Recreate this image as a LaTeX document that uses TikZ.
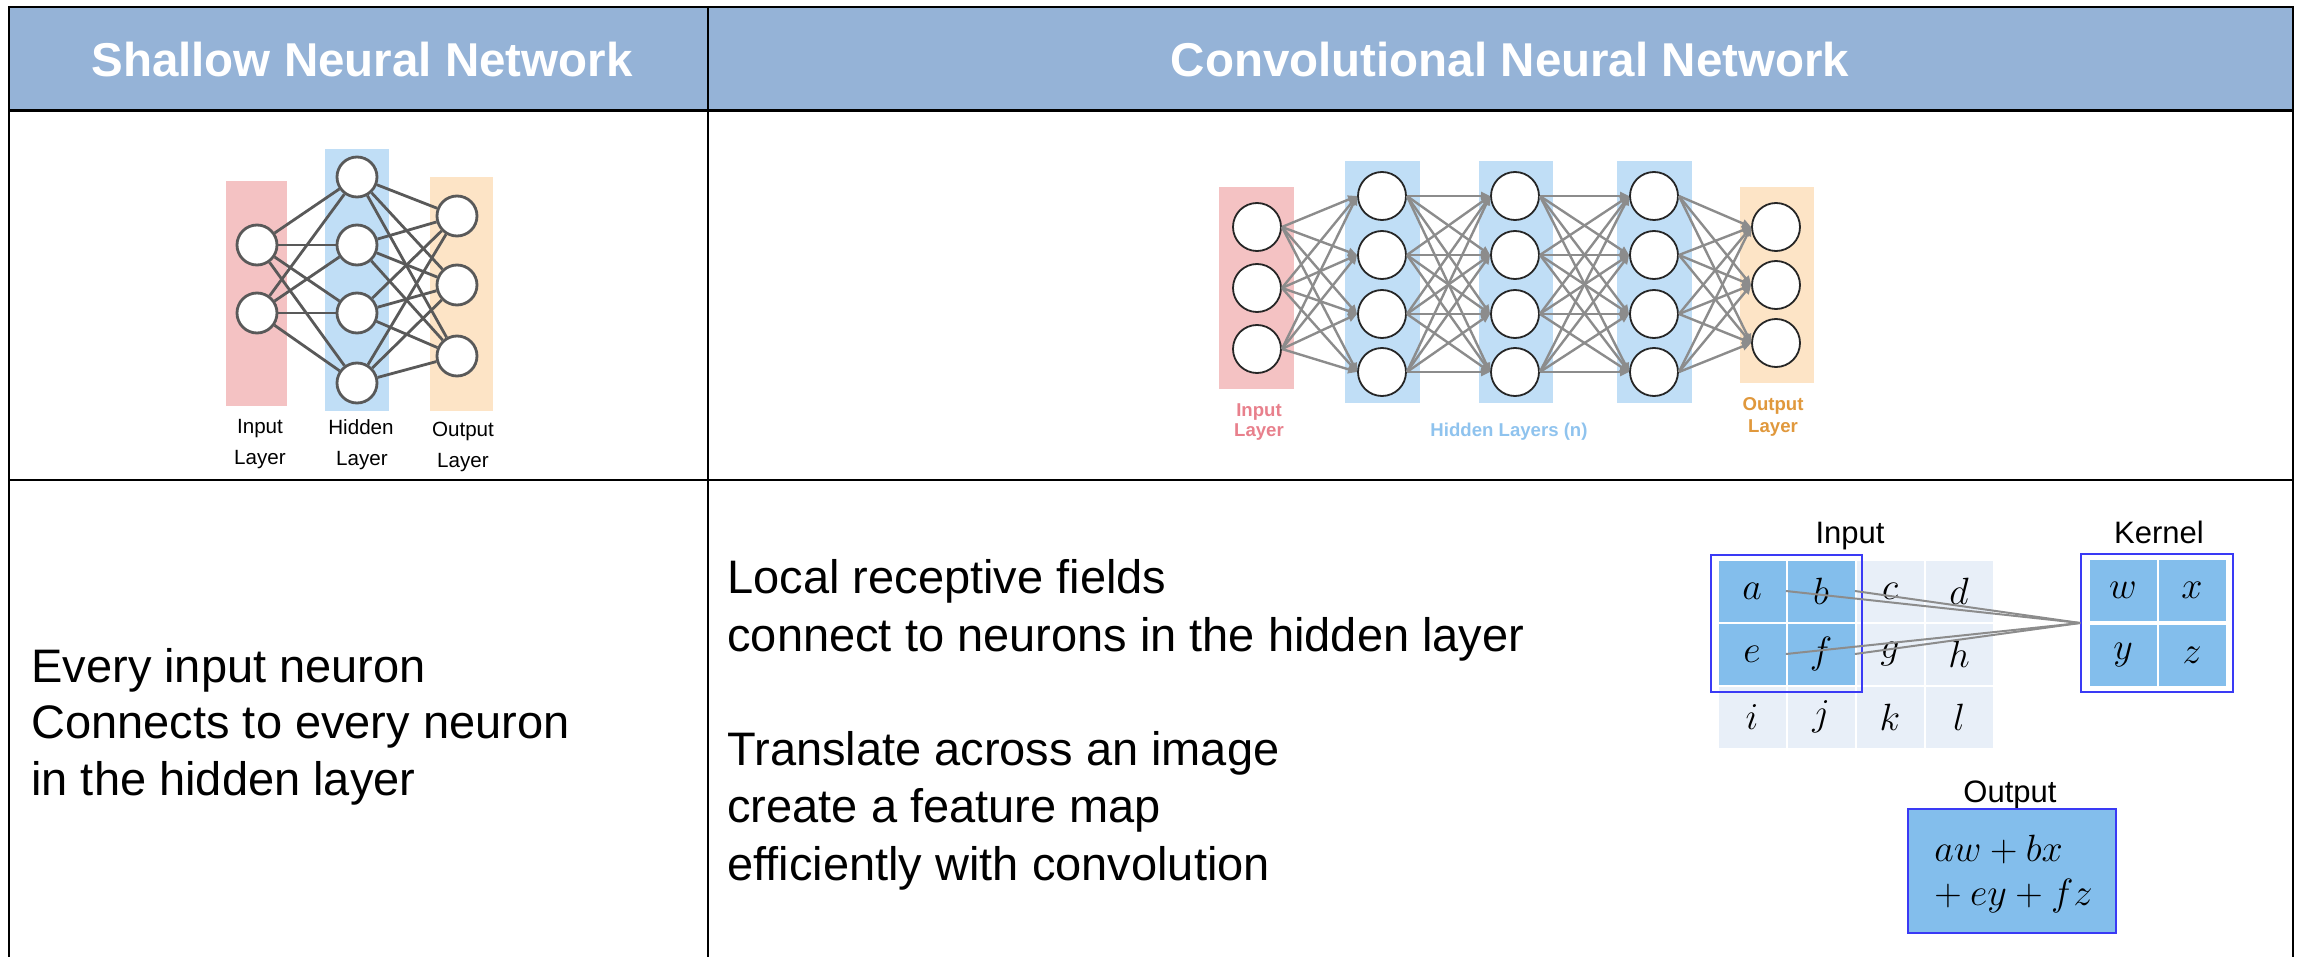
\RequirePackage{fix-cm}
\documentclass[tikz,border=0pt]{standalone}
\usepackage{fontspec}
\setmainfont{Liberation Sans}
\usetikzlibrary{arrows.meta}

\definecolor{headblue}{HTML}{95B3D7}
\definecolor{inpink}{HTML}{F4C2C3}
\definecolor{hidblue}{HTML}{C0DEF6}
\definecolor{outpeach}{HTML}{FDE4C6}
\definecolor{shline}{HTML}{595959}
\definecolor{cnnline}{HTML}{8C8C8C}
\definecolor{cellblue}{HTML}{83BEEC}
\definecolor{cellpale}{HTML}{E8EFF8}
\definecolor{framblue}{HTML}{3A3AF5}
\definecolor{lblpink}{HTML}{E8808C}
\definecolor{lblblue}{HTML}{8FC3EE}
\definecolor{lblorange}{HTML}{E0983C}

\begin{document}
\begin{tikzpicture}[x=0.5pt,y=-0.5pt,
  sneuron/.style={circle, draw=shline, line width=1.4pt, fill=white, minimum size=20pt, inner sep=0pt},
  sedge/.style={draw=shline, line width=1.4pt},
  cneuron/.style={circle, draw=black!85, line width=0.9pt, fill=white, minimum size=24pt, inner sep=0pt},
  cedge/.style={draw=cnnline, line width=1.2pt, -{Triangle[length=4.5pt,width=4pt]}},
  headtxt/.style={anchor=base, text=white, font=\fontsize{23.75}{28}\selectfont\bfseries, inner sep=0pt},
  bodytxt/.style={anchor=base west, inner sep=0pt, font=\fontsize{23.5}{28}\selectfont},
  slabel/.style={anchor=base, inner sep=0pt, font=\fontsize{10.3}{12}\selectfont},
  clabel/.style={anchor=base, inner sep=0pt, font=\fontsize{9.3}{11}\selectfont\bfseries},
  glabel/.style={anchor=base, inner sep=0pt, font=\fontsize{15.5}{18}\selectfont},
  gridcell/.style={minimum width=33.5pt, minimum height=30.5pt, inner sep=0pt, font=\fontsize{19}{23}\selectfont},
  blueframe/.style={draw=framblue, line width=0.8pt, inner sep=0pt},
  mathline/.style={anchor=base west, inner sep=0pt, font=\fontsize{19}{23}\selectfont},
  convline/.style={draw=cnnline, line width=1pt},
]
\useasboundingbox (0,0) rectangle (2303,957);

% ---------- table ----------
\fill[headblue] (9,7) rectangle (2293,111);
\draw[line width=1.4pt] (9,957) -- (9,7) -- (2293,7) -- (2293,957);
\draw[line width=1.5pt] (9,111) -- (2293,111);
\draw[line width=1.3pt] (9,480) -- (2293,480);
\draw[line width=1.2pt] (708,7) -- (708,957);

\node[headtxt] (h1) at (362,77) {Shallow Neural Network};
\node[headtxt] (h2) at (1510,77) {Convolutional Neural Network};

% ---------- shallow network ----------
\fill[inpink] (226,181) rectangle (287,406);
\fill[hidblue] (325,149) rectangle (389,411);
\fill[outpeach] (430,177) rectangle (493,411);

\foreach \yy [count=\k] in {245,313} \node[sneuron] (s0-\k) at (257,\yy) {};
\foreach \yy [count=\k] in {177,245,313,383} \node[sneuron] (s1-\k) at (357,\yy) {};
\foreach \yy [count=\k] in {216,285,356} \node[sneuron] (s2-\k) at (457,\yy) {};

\foreach \i in {1,2} \foreach \j in {1,...,4} \draw[sedge] (s0-\i) -- (s1-\j);
\foreach \i in {1,...,4} \foreach \j in {1,2,3} \draw[sedge] (s1-\i) -- (s2-\j);

\node[slabel] (sl1a) at (260,433) {Input};
\node[slabel] (sl1b) at (260,464) {Layer};
\node[slabel] (sl2a) at (361,434) {Hidden};
\node[slabel] (sl2b) at (362,465) {Layer};
\node[slabel] (sl3a) at (463,436) {Output};
\node[slabel] (sl3b) at (463,467) {Layer};

% ---------- deep network ----------
\fill[inpink] (1219,187) rectangle (1294,389);
\fill[hidblue] (1345,161) rectangle (1420,403);
\fill[hidblue] (1479,161) rectangle (1553,403);
\fill[hidblue] (1617,161) rectangle (1692,403);
\fill[outpeach] (1740,187) rectangle (1814,383);

\foreach \yy [count=\k] in {227,288,349} \node[cneuron] (p0-\k) at (1257,\yy) {};
\foreach \xx [count=\L] in {1382,1515,1654}
  \foreach \yy [count=\k] in {196,255,314,372} \node[cneuron] (p\L-\k) at (\xx,\yy) {};
\foreach \yy [count=\k] in {227,285,343} \node[cneuron] (p4-\k) at (1776,\yy) {};

\foreach \i in {1,2,3} \foreach \j in {1,...,4} \draw[cedge] (p0-\i.east) -- (p1-\j.west);
\foreach \i in {1,...,4} \foreach \j in {1,...,4} \draw[cedge] (p1-\i.east) -- (p2-\j.west);
\foreach \i in {1,...,4} \foreach \j in {1,...,4} \draw[cedge] (p2-\i.east) -- (p3-\j.west);
\foreach \i in {1,...,4} \foreach \j in {1,2,3} \draw[cedge] (p3-\i.east) -- (p4-\j.west);

\node[clabel, text=lblpink] (cl1a) at (1259,416) {Input};
\node[clabel, text=lblpink] (cl1b) at (1259,437) {Layer};
\node[clabel, text=lblblue] (cl2) at (1509,437) {Hidden Layers (n)};
\node[clabel, text=lblorange] (cl3a) at (1773,410) {Output};
\node[clabel, text=lblorange] (cl3b) at (1773,432) {Layer};

% ---------- descriptions ----------
\node[bodytxt] (ta) at (31,682) {Every input neuron};
\node[bodytxt] (tb) at (31,738) {Connects to every neuron};
\node[bodytxt] (tc) at (31,795) {in the hidden layer};

\node[bodytxt] (ua) at (727,593) {Local receptive fields};
\node[bodytxt] (ub) at (727,651) {connect to neurons in the hidden layer};
\node[bodytxt] (uc) at (727,765) {Translate across an image};
\node[bodytxt] (ud) at (727,822) {create a feature map};
\node[bodytxt] (ue) at (727,880) {efficiently with convolution};

% ---------- convolution sketch ----------
\node[glabel] (gin) at (1850,543) {Input};
\node[glabel] (gker) at (2159,543) {Kernel};
\node[glabel] (gout) at (2010,802) {Output};

\foreach \ltr/\col/\row/\fc in {a/0/0/cellblue, b/1/0/cellblue, c/2/0/cellpale, d/3/0/cellpale,
  e/0/1/cellblue, f/1/1/cellblue, g/2/1/cellpale, h/3/1/cellpale,
  i/0/2/cellpale, j/1/2/cellpale, k/2/2/cellpale, l/3/2/cellpale}
  \node[gridcell, fill=\fc] (c\ltr) at ({1752+69*\col},{591+63*\row}) {$\ltr$};

\foreach \ltr/\col/\row in {w/0/0, x/1/0, y/0/1, z/1/1}
  \node[gridcell, fill=cellblue] (k\ltr) at ({2123+69*\col},{590+65*\row}) {$\ltr$};

\node[blueframe, minimum width=75.5pt, minimum height=68.5pt] (inbox) at (1786.5,623.5) {};
\node[blueframe, minimum width=76pt, minimum height=69pt] (kern) at (2157,623) {};

\draw[convline] (ca.east) -- (kern.west);
\draw[convline] (cb.east) -- (kern.west);
\draw[convline] (ce.east) -- (kern.west);
\draw[convline] (cf.east) -- (kern.west);

\node[blueframe, fill=cellblue, minimum width=104pt, minimum height=62pt] (outbox) at (2012,871) {};
\node[mathline] (o1) at (1934,861) {$aw+bx$};
\node[mathline] (o2) at (1934,905) {$+\mskip\medmuskip ey+fz$};

\end{tikzpicture}
\end{document}
